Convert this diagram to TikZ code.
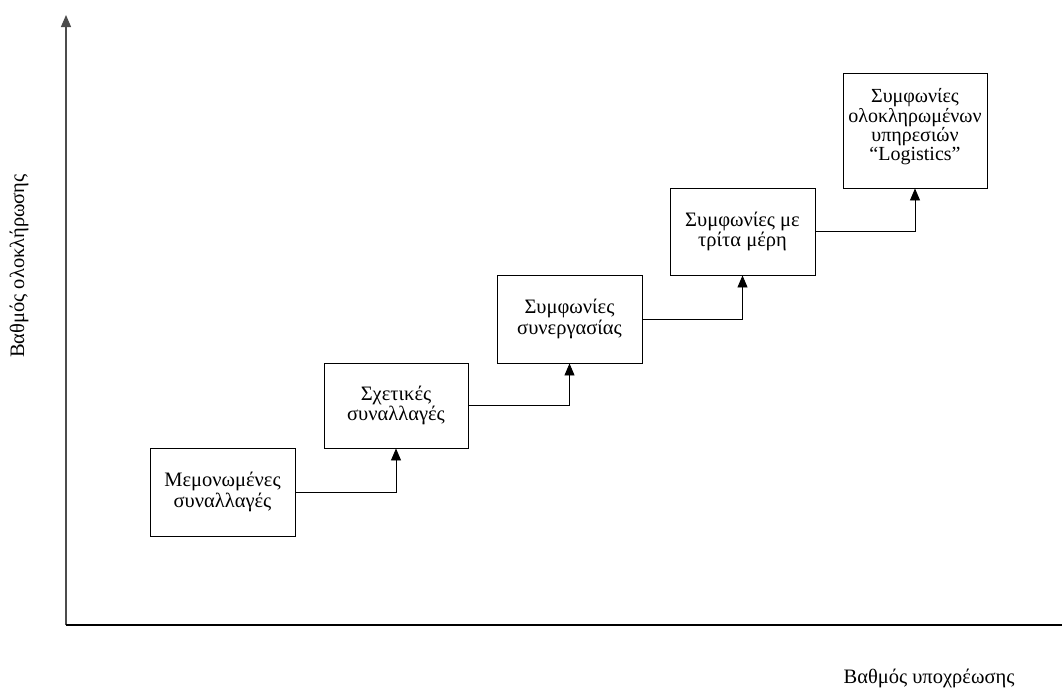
\documentclass[tikz,border=0pt]{standalone}
\usepackage{fontspec}
\setmainfont{Liberation Serif}
\usetikzlibrary{arrows.meta}
\tikzset{
  stage/.style={draw=black, line width=0.9pt, fill=white, align=center, inner sep=2pt,
    font=\fontsize{20.5}{20.5}\selectfont},
  conn/.style={line width=0.9pt, -{Triangle[length=12pt,width=10pt]}},
  axis/.style={line width=1.2pt},
  axlabel/.style={font=\fontsize{20.5}{22}\selectfont},
}
\begin{document}
\begin{tikzpicture}[x=1pt,y=-1pt]
\useasboundingbox (0,0) rectangle (1062,691);
\coordinate (o) at (66,625);
\coordinate (ytop) at (66,15);
\coordinate (xend) at (1062,625);
\draw[axis, draw=black!70, -{Triangle[length=12pt,width=10pt]}] (o) -- (ytop);
\draw[axis] (o) -- (xend);
\node[stage, minimum width=145pt, minimum height=88pt] (b1) at (222.5,492) {Μεμονωμένες\\συναλλαγές};
\node[stage, minimum width=144pt, minimum height=85pt] (b2) at (396,405.5) {Σχετικές\\συναλλαγές};
\node[stage, minimum width=145pt, minimum height=88pt] (b3) at (569.5,319) {Συμφωνίες\\συνεργασίας};
\node[stage, minimum width=145pt, minimum height=87pt] (b4) at (742.5,231.5) {Συμφωνίες με\\τρίτα μέρη};
\node[stage, minimum width=144pt, minimum height=115pt, font=\fontsize{20}{17}\selectfont] (b5) at (915,130.5) {Συμφωνίες\\ολοκληρωμένων\\υπηρεσιών\\“Logistics”\rule[-12pt]{0pt}{0pt}};
\draw[conn] (b1.east) -| (b2.south);
\draw[conn] (b2.east) -| (b3.south);
\draw[conn] (b3.east) -| (b4.south);
\draw[conn] (b4.east) -| (b5.south);
\node[axlabel, anchor=base] (xl) at (929,683) {Βαθμός υποχρέωσης};
\node[axlabel, rotate=90, anchor=base] (yl) at (24,266) {Βαθμός ολοκλήρωσης};
\end{tikzpicture}
\end{document}
